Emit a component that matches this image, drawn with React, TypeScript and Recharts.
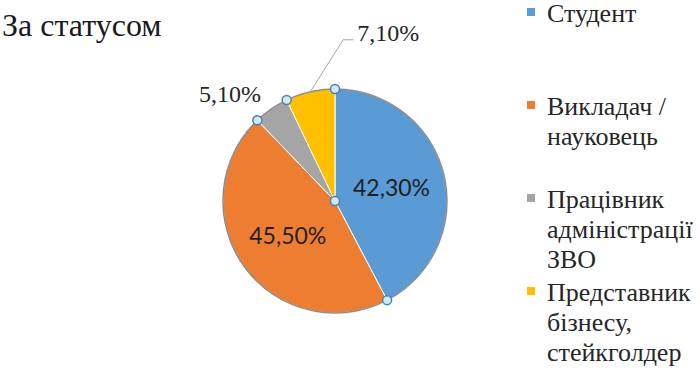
import { Cell, Pie, PieChart } from "recharts";

const title = "За статусом";
const categories = [
  "Студент",
  "Викладач / науковець",
  "Працівник адміністрації ЗВО",
  "Представник бізнесу, стейкголдер",
];
const shares = [42.3, 45.5, 5.1, 7.1];
const colors = ["#5B9BD5", "#ED7D31", "#A5A5A5", "#FFC000"];

const data = categories.map((name, i) => ({ name, value: shares[i] }));

const SERIF = "'Liberation Serif', 'Times New Roman', serif";
const SANS = "Lato, 'Open Sans', sans-serif";

const RAD = Math.PI / 180;
const polar = (cx: number, cy: number, r: number, angle: number) => [
  cx + r * Math.cos(-angle * RAD),
  cy + r * Math.sin(-angle * RAD),
];
const fmt = (v: number) => v.toFixed(2).replace(".", ",") + "%";

const handleStyle = { fill: "#cdebf5", stroke: "#4f7fb0", strokeWidth: 1.5 };

function renderLabel(props: any) {
  const { cx, cy, outerRadius, startAngle, midAngle, index, value, percent } = props;
  const [hx, hy] = polar(cx, cy, outerRadius, startAngle);
  const inside = percent > 0.2;
  let text;
  if (inside) {
    const [lx, ly] = polar(cx, cy, outerRadius * 0.52, midAngle);
    text = (
      <text x={lx} y={ly} textAnchor="middle" dominantBaseline="central"
        style={{ fontFamily: SANS }} fontSize={23} fill="#1f1f1f">
        {fmt(value)}
      </text>
    );
  } else if (index === 2) {
    const [lx, ly] = polar(cx, cy, outerRadius + 18, midAngle);
    text = (
      <text x={lx} y={ly} textAnchor="end" dominantBaseline="central"
        style={{ fontFamily: SERIF }} fontSize={24} fill="#262626">
        {fmt(value)}
      </text>
    );
  } else {
    // label dragged up-right in the original, with an elbow leader
    const [ex, ey] = polar(cx, cy, outerRadius, midAngle);
    const bx = ex + 33;
    const by = ey - 52;
    text = (
      <g>
        <polyline points={`${ex},${ey} ${bx},${by} ${bx + 10},${by}`}
          fill="none" stroke="#a6a6a6" strokeWidth={1} />
        <text x={bx + 14} y={by + 1} textAnchor="start"
          style={{ fontFamily: SERIF }} fontSize={24} fill="#262626">
          {fmt(value)}
        </text>
      </g>
    );
  }
  return (
    <g>
      {index === 0 && (
        <circle cx={cx} cy={cy} r={outerRadius} fill="none" stroke="#8c8c8c" strokeWidth={1.5} />
      )}
      {text}
      <circle cx={hx} cy={hy} r={4.5} {...handleStyle} />
      {index === 0 && <circle cx={cx} cy={cy} r={4.5} {...handleStyle} />}
    </g>
  );
}

export default function App() {
  return (
    <div style={{ fontFamily: SERIF }}>
      <div style={{ position: "absolute", left: 2, top: 7, fontFamily: SERIF, fontSize: 32, color: "#1a1a1a", whiteSpace: "nowrap" }}>
        {title}
      </div>
      <PieChart width={700} height={370} margin={{ top: 0, right: 0, bottom: 0, left: 0 }}
        style={{ position: "absolute", left: 0, top: 0 }}>
        <Pie
          data={data}
          dataKey="value"
          nameKey="name"
          cx={335}
          cy={201}
          outerRadius={112}
          startAngle={90}
          endAngle={-270}
          stroke="#ffffff"
          strokeWidth={1}
          label={renderLabel}
          labelLine={false}
          isAnimationActive={false}
        >
          {data.map((_, i) => (
            <Cell key={i} fill={colors[i]} />
          ))}
        </Pie>
      </PieChart>
      {/* legend, drawn from the arrays so the order stays as in the source */}
      <div style={{ position: "absolute", left: 527, top: -1, width: 173, fontFamily: SERIF, fontSize: 26, lineHeight: "30px", color: "#262626" }}>
        {categories.map((name, i) => (
          <div key={name} style={{ height: 93, display: "flex", alignItems: "flex-start" }}>
            <span style={{ width: 8, height: 8, background: colors[i], marginTop: 9, marginRight: 12, flex: "none" }} />
            <span>{name}</span>
          </div>
        ))}
      </div>
    </div>
  );
}
